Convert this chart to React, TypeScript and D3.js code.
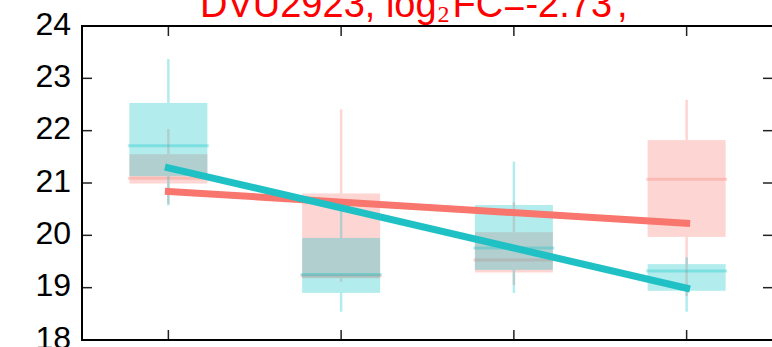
import React from "react";
import * as d3 from "d3";

const categories = ["T1", "T2", "T3", "T4"];
const yTicks = [18, 19, 20, 21, 22, 23, 24];

// [whiskerLow, q1, median, q3, whiskerHigh]
const cyanBoxes = [
  [20.57, 21.13, 21.71, 22.53, 23.37],
  [18.54, 18.9, 19.25, 19.95, 20.67],
  [18.9, 19.34, 19.76, 20.58, 21.41],
  [18.54, 18.94, 19.32, 19.45, 19.58],
];
const redBoxes = [
  [20.6, 20.99, 21.09, 21.55, 22.03],
  [19.11, 19.18, 19.23, 20.8, 22.41],
  [19.05, 19.29, 19.53, 20.06, 20.63],
  [18.84, 19.97, 21.07, 21.82, 22.59],
];
// fitted trend lines: value at first and last category
const redTrend = [20.84, 20.23];
const cyanTrend = [21.29, 18.99];

const titleMain = "DVU2923, log";
const titleSub = "2";
const titleRest = "FC=-2.73";
const titleEnd = ",";

const W = 772;
const H = 347;
const left = 82;
const right = 773;
const top = 26;
const bottom = 340;

const RED = "#F8766D";
const CYAN = "#00BFC4";

export default function App() {
  const x = d3.scalePoint<string>().domain(categories).range([left, right]).padding(0.5);
  const y = d3.scaleLinear().domain([18, 24]).range([bottom, top]);
  const halfW = 39;

  const drawBoxes = (boxes: number[][], color: string, key: string) =>
    boxes.map((b, i) => {
      const cx = x(categories[i]) as number;
      const [wl, q1, med, q3, wh] = b;
      return (
        <g key={key + i}>
          <line x1={cx} x2={cx} y1={y(q3)} y2={y(wh)} stroke={color} strokeOpacity={0.3} strokeWidth={2.5} />
          <line x1={cx} x2={cx} y1={y(q1)} y2={y(wl)} stroke={color} strokeOpacity={0.3} strokeWidth={2.5} />
          <rect x={cx - halfW} y={y(q3)} width={halfW * 2} height={y(q1) - y(q3)} fill={color} fillOpacity={0.3} />
          <line
            x1={cx - halfW}
            x2={cx + halfW}
            y1={y(med)}
            y2={y(med)}
            stroke={color}
            strokeOpacity={0.3}
            strokeWidth={3}
            strokeLinecap="square"
          />
        </g>
      );
    });

  const first = x(categories[0]) as number;
  const last = x(categories[categories.length - 1]) as number;
  const trendLine = d3.line<[number, number]>().x((d) => d[0]).y((d) => d[1]);

  return (
    <svg
      width={W}
      height={H}
      style={{ position: "absolute", left: 0, top: 0, background: "#fff" }}
      fontFamily="'Liberation Sans', Arial, sans-serif"
    >
      <rect x={0} y={0} width={W} height={H} fill="#fff" />
      {drawBoxes(redBoxes, RED, "r")}
      {drawBoxes(cyanBoxes, CYAN, "c")}
      <path
        d={trendLine([[first, y(redTrend[0])], [last, y(redTrend[1])]]) || ""}
        stroke={RED}
        strokeWidth={7}
        strokeLinecap="square"
        fill="none"
      />
      <path
        d={trendLine([[first, y(cyanTrend[0])], [last, y(cyanTrend[1])]]) || ""}
        stroke="#20C1C5"
        strokeWidth={7}
        strokeLinecap="square"
        fill="none"
      />
      {yTicks.map((t) => (
        <g key={"yt" + t}>
          <line x1={left} x2={left + 10} y1={y(t)} y2={y(t)} stroke="#222" strokeWidth={1.5} />
          <line x1={right - 10} x2={right} y1={y(t)} y2={y(t)} stroke="#222" strokeWidth={1.5} />
          <text x={left - 11} y={y(t) + 8.5} textAnchor="end" fontSize={32} fill="#000">
            {t}
          </text>
        </g>
      ))}
      {categories.map((c) => (
        <g key={"xt" + c}>
          <line x1={x(c)} x2={x(c)} y1={top} y2={top + 10} stroke="#222" strokeWidth={1.5} />
          <line x1={x(c)} x2={x(c)} y1={bottom} y2={bottom - 10} stroke="#222" strokeWidth={1.5} />
        </g>
      ))}
      <rect x={left} y={top} width={right - left} height={bottom - top} fill="none" stroke="#000" strokeWidth={2} />
      <text x={200} y={17} fontSize={38} fill="#FF0000">
        {titleMain}
        <tspan fontSize={24} dx={1} dy={5} fontFamily="'Liberation Serif', serif">
          {titleSub}
        </tspan>
        <tspan dx={3} dy={-5}>{titleRest}</tspan>
        <tspan dx={5}>{titleEnd}</tspan>
      </text>
    </svg>
  );
}
